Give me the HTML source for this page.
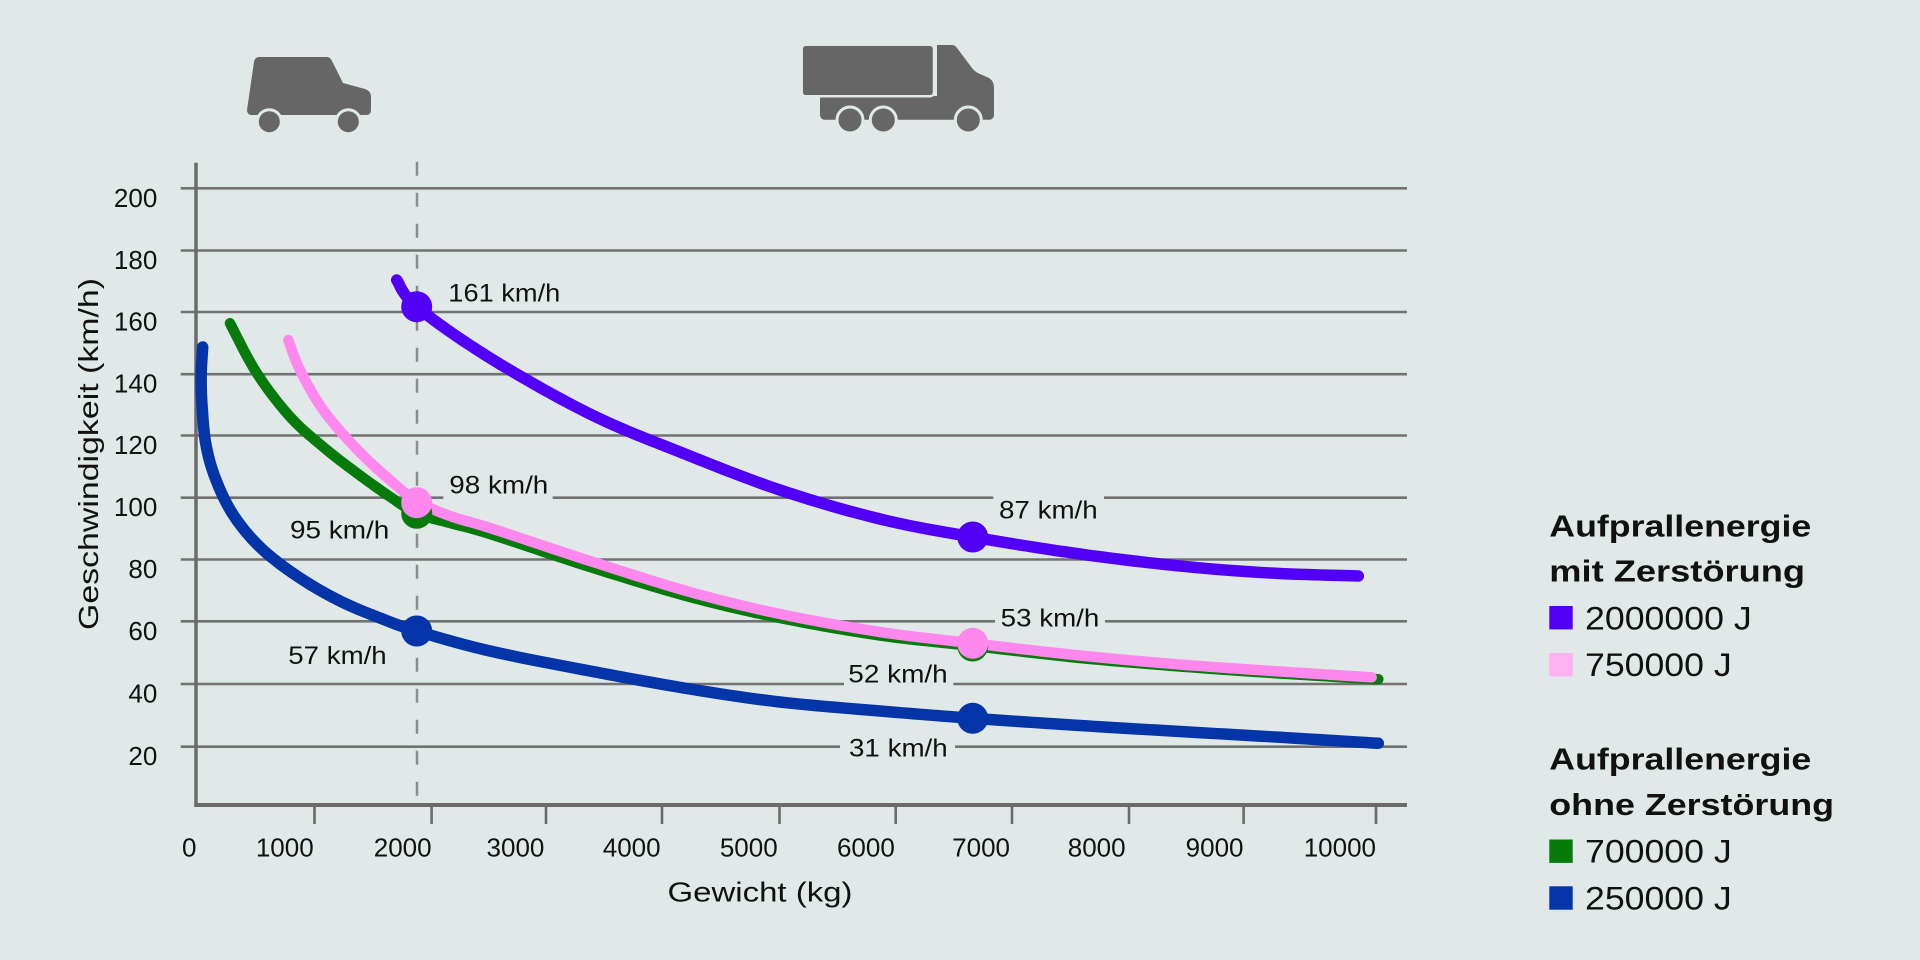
<!DOCTYPE html>
<html>
<head>
<meta charset="utf-8">
<style>
  html,body{margin:0;padding:0;background:#e0e8e8;}
  svg{display:block;}
  text{font-family:"Liberation Sans", Arial, sans-serif; fill:#111;}
</style>
</head>
<body>
<svg width="1920" height="960" viewBox="0 0 1920 960" xmlns="http://www.w3.org/2000/svg">
  <rect x="0" y="0" width="1920" height="960" fill="#e0e8e8"/>

  <!-- Vehicle icons -->
  <g fill="#666666">
    <!-- car -->
    <path d="M259,57 L327,57 Q330,57 332,61 L343,83 L365,89 Q371,91 371,97 L371,110 Q371,115 366,115 L252,115 Q247,115 247,110 L254,62 Q255,57 259,57 Z"/>
    <circle cx="269.3" cy="121.7" r="12" stroke="#e0e8e8" stroke-width="3"/>
    <circle cx="348.3" cy="121.7" r="12" stroke="#e0e8e8" stroke-width="3"/>
    <!-- truck -->
    <path d="M937,45 L952,45 Q955,45 957,48 L972,68 Q975,72 980,74 L989,78 Q994,81 994,88 L994,114 Q994,119.7 989,119.7 L825,119.7 Q820,119.7 820,114 L820,96 L937,96 Z"/>
    <rect x="801.7" y="44.7" width="132.3" height="51.6" rx="4" stroke="#e0e8e8" stroke-width="2.5"/>
    <circle cx="850" cy="120" r="13" stroke="#e0e8e8" stroke-width="3"/>
    <circle cx="883.3" cy="120" r="13" stroke="#e0e8e8" stroke-width="3"/>
    <circle cx="968.3" cy="120" r="13" stroke="#e0e8e8" stroke-width="3"/>
  </g>

  <!-- Gridlines -->
  <g stroke="#727272" stroke-width="2.6">
    <line x1="180.7" y1="188.3" x2="1407" y2="188.3"/>
    <line x1="180.7" y1="250.5" x2="1407" y2="250.5"/>
    <line x1="180.7" y1="312" x2="1407" y2="312"/>
    <line x1="180.7" y1="374.2" x2="1407" y2="374.2"/>
    <line x1="180.7" y1="435.5" x2="1407" y2="435.5"/>
    <line x1="180.7" y1="497.7" x2="1407" y2="497.7"/>
    <line x1="180.7" y1="559.5" x2="1407" y2="559.5"/>
    <line x1="180.7" y1="621.3" x2="1407" y2="621.3"/>
    <line x1="180.7" y1="684" x2="1407" y2="684"/>
    <line x1="180.7" y1="746.7" x2="1407" y2="746.7"/>
  </g>

  <!-- label gaps in gridlines -->
  <g fill="#e0e8e8">
    <rect x="443.3" y="493" width="109.4" height="9.5"/>
    <rect x="993.3" y="493" width="110.7" height="9.5"/>
    <rect x="995" y="616.5" width="110" height="9.5"/>
    <rect x="844" y="679.3" width="109.3" height="9.5"/>
    <rect x="840" y="742" width="115" height="9.5"/>
  </g>

  <!-- Axes -->
  <line x1="196" y1="162.7" x2="196" y2="807" stroke="#6b6b6b" stroke-width="3.5"/>
  <line x1="194.3" y1="805" x2="1407" y2="805" stroke="#6b6b6b" stroke-width="4"/>
  <g stroke="#6b6b6b" stroke-width="2.6">
    <line x1="314.5" y1="805" x2="314.5" y2="824"/>
    <line x1="431.6" y1="805" x2="431.6" y2="824"/>
    <line x1="546" y1="805" x2="546" y2="824"/>
    <line x1="662" y1="805" x2="662" y2="824"/>
    <line x1="779.5" y1="805" x2="779.5" y2="824"/>
    <line x1="895.7" y1="805" x2="895.7" y2="824"/>
    <line x1="1012" y1="805" x2="1012" y2="824"/>
    <line x1="1129" y1="805" x2="1129" y2="824"/>
    <line x1="1243.6" y1="805" x2="1243.6" y2="824"/>
    <line x1="1376" y1="805" x2="1376" y2="824"/>
  </g>

  <!-- dashed 2000 kg line -->
  <line x1="417" y1="161.7" x2="417" y2="804" stroke="#8c8c8c" stroke-width="2.5" stroke-dasharray="14 17"/>

  <!-- Curves -->
  <g fill="none" stroke-linecap="round" stroke-linejoin="round">
    <!-- green 700000 J -->
    <polyline class="s" stroke="#077a0c" stroke-width="10.5" points="230,323.3 256.7,373 290,416.7 323.3,447 356.7,473 390,496.7 416.7,513.3 450,523 490,534 590,567 690,597 780,618 880,635.5 972.7,646 1080,658 1180,666.5 1280,673.5 1378.3,679.3"/>
    <!-- pink 750000 J -->
    <polyline class="s" stroke="#ff88ee" stroke-width="10.5" points="288.3,340 300,370 323.3,410 356.7,449 390,480 416.7,501 450,516 490,528 590,561 690,592 780,614 880,632 972.7,643.3 1080,655.5 1180,664.5 1280,671.5 1371.7,677.3"/>
    <!-- blue 250000 J -->
    <polyline class="s" stroke="#0334a8" stroke-width="11.5" points="202.7,347 201.2,375 202,405 206,445 216,480 234,516 262,549 300,578 340,601 380,618 416.7,631 490,651 590,671 690,689 780,702 880,711 972.7,718.3 1080,725.5 1180,731.5 1280,737.3 1378.3,743.3"/>
    <!-- purple 2000000 J -->
    <polyline class="s" stroke="#5200f5" stroke-width="11.5" points="396.7,280 416.7,306.7 490,358 590,414 680,452 780,490 880,519 972.7,537 1080,554 1180,566 1270,573 1358.3,576"/>
  </g>

  <!-- Markers -->
  <circle cx="416.7" cy="513.3" r="15.5" fill="#077a0c"/>
  <circle cx="972.7" cy="646" r="15.5" fill="#077a0c"/>
  <circle cx="416.7" cy="502.7" r="15.5" fill="#ff88ee"/>
  <circle cx="972.7" cy="643.3" r="15.5" fill="#ff88ee"/>
  <circle cx="416.7" cy="631" r="15.5" fill="#0334a8"/>
  <circle cx="972.7" cy="718.3" r="15.5" fill="#0334a8"/>
  <circle cx="416.7" cy="306.7" r="15.5" fill="#5200f5"/>
  <circle cx="972.7" cy="537" r="15.5" fill="#5200f5"/>

  <!-- Data labels -->
  <g font-size="25">
    <text x="448.3" y="301.7" textLength="112" lengthAdjust="spacingAndGlyphs">161 km/h</text>
    <text x="449.3" y="493.3" textLength="99" lengthAdjust="spacingAndGlyphs">98 km/h</text>
    <text x="290" y="538.3" textLength="99.3" lengthAdjust="spacingAndGlyphs">95 km/h</text>
    <text x="288.3" y="664" textLength="98.4" lengthAdjust="spacingAndGlyphs">57 km/h</text>
    <text x="999" y="518.3" textLength="98.7" lengthAdjust="spacingAndGlyphs">87 km/h</text>
    <text x="1000.7" y="626.7" textLength="98.6" lengthAdjust="spacingAndGlyphs">53 km/h</text>
    <text x="848.3" y="682.7" textLength="99.4" lengthAdjust="spacingAndGlyphs">52 km/h</text>
    <text x="849" y="756.7" textLength="98.7" lengthAdjust="spacingAndGlyphs">31 km/h</text>
  </g>

  <!-- Y tick labels -->
  <g font-size="26" text-anchor="end">
    <text x="157.3" y="206.8">200</text>
    <text x="157.3" y="269">180</text>
    <text x="157.3" y="330.5">160</text>
    <text x="157.3" y="392.7">140</text>
    <text x="157.3" y="454">120</text>
    <text x="157.3" y="516.2">100</text>
    <text x="157.3" y="578">80</text>
    <text x="157.3" y="639.8">60</text>
    <text x="157.3" y="702.5">40</text>
    <text x="157.3" y="765.2">20</text>
  </g>

  <!-- X tick labels -->
  <g font-size="26" text-anchor="end">
    <text x="196.5" y="856.7">0</text>
    <text x="313.7" y="856.7">1000</text>
    <text x="431.6" y="856.7">2000</text>
    <text x="544.4" y="856.7">3000</text>
    <text x="660.6" y="856.7">4000</text>
    <text x="777.7" y="856.7">5000</text>
    <text x="894.8" y="856.7">6000</text>
    <text x="1010" y="856.7">7000</text>
    <text x="1125.6" y="856.7">8000</text>
    <text x="1243.5" y="856.7">9000</text>
    <text x="1376" y="856.7">10000</text>
  </g>

  <!-- Axis titles -->
  <text x="760" y="901.7" font-size="28" text-anchor="middle" textLength="185" lengthAdjust="spacingAndGlyphs">Gewicht (kg)</text>
  <text transform="translate(98,454) rotate(-90)" font-size="28" text-anchor="middle" textLength="352" lengthAdjust="spacingAndGlyphs">Geschwindigkeit (km/h)</text>

  <!-- Legend -->
  <g font-weight="bold" font-size="31">
    <text x="1549.3" y="536.7" textLength="262" lengthAdjust="spacingAndGlyphs">Aufprallenergie</text>
    <text x="1549.3" y="581.7" textLength="255.7" lengthAdjust="spacingAndGlyphs">mit Zerstörung</text>
    <text x="1549.3" y="769.3" textLength="262" lengthAdjust="spacingAndGlyphs">Aufprallenergie</text>
    <text x="1549.3" y="815" textLength="284.7" lengthAdjust="spacingAndGlyphs">ohne Zerstörung</text>
  </g>
  <rect x="1549.3" y="606" width="23.4" height="23.4" fill="#5200f5"/>
  <rect x="1549.3" y="653" width="23.4" height="23.4" fill="#ffb0f2"/>
  <rect x="1549.3" y="839.5" width="23.4" height="23.4" fill="#077a0c"/>
  <rect x="1549.3" y="886.3" width="23.4" height="23.4" fill="#0334a8"/>
  <g font-size="32">
    <text x="1585" y="629.3" textLength="166.7" lengthAdjust="spacingAndGlyphs">2000000 J</text>
    <text x="1585" y="676" textLength="146.7" lengthAdjust="spacingAndGlyphs">750000 J</text>
    <text x="1585" y="862.7" textLength="146.7" lengthAdjust="spacingAndGlyphs">700000 J</text>
    <text x="1585" y="909.3" textLength="146.7" lengthAdjust="spacingAndGlyphs">250000 J</text>
  </g>
</svg>
<script>
(function(){
  var pls = document.querySelectorAll('polyline.s');
  for (var k = 0; k < pls.length; k++) {
    var pl = pls[k];
    var raw = pl.getAttribute('points').trim().split(/\s+/);
    var p = [];
    for (var j = 0; j < raw.length; j++) { var a = raw[j].split(','); p.push([+a[0], +a[1]]); }
    var out = [];
    var N = 16;
    for (var i = 0; i < p.length - 1; i++) {
      var p0 = p[i-1] || p[i], p1 = p[i], p2 = p[i+1], p3 = p[i+2] || p[i+1];
      for (var s = 0; s < N; s++) {
        var t = s / N, t2 = t*t, t3 = t2*t;
        var x = 0.5*((2*p1[0]) + (-p0[0]+p2[0])*t + (2*p0[0]-5*p1[0]+4*p2[0]-p3[0])*t2 + (-p0[0]+3*p1[0]-3*p2[0]+p3[0])*t3);
        var y = 0.5*((2*p1[1]) + (-p0[1]+p2[1])*t + (2*p0[1]-5*p1[1]+4*p2[1]-p3[1])*t2 + (-p0[1]+3*p1[1]-3*p2[1]+p3[1])*t3);
        out.push(x.toFixed(2) + ',' + y.toFixed(2));
      }
    }
    var last = p[p.length-1];
    out.push(last[0] + ',' + last[1]);
    pl.setAttribute('points', out.join(' '));
  }
})();
</script>
</body>
</html>
